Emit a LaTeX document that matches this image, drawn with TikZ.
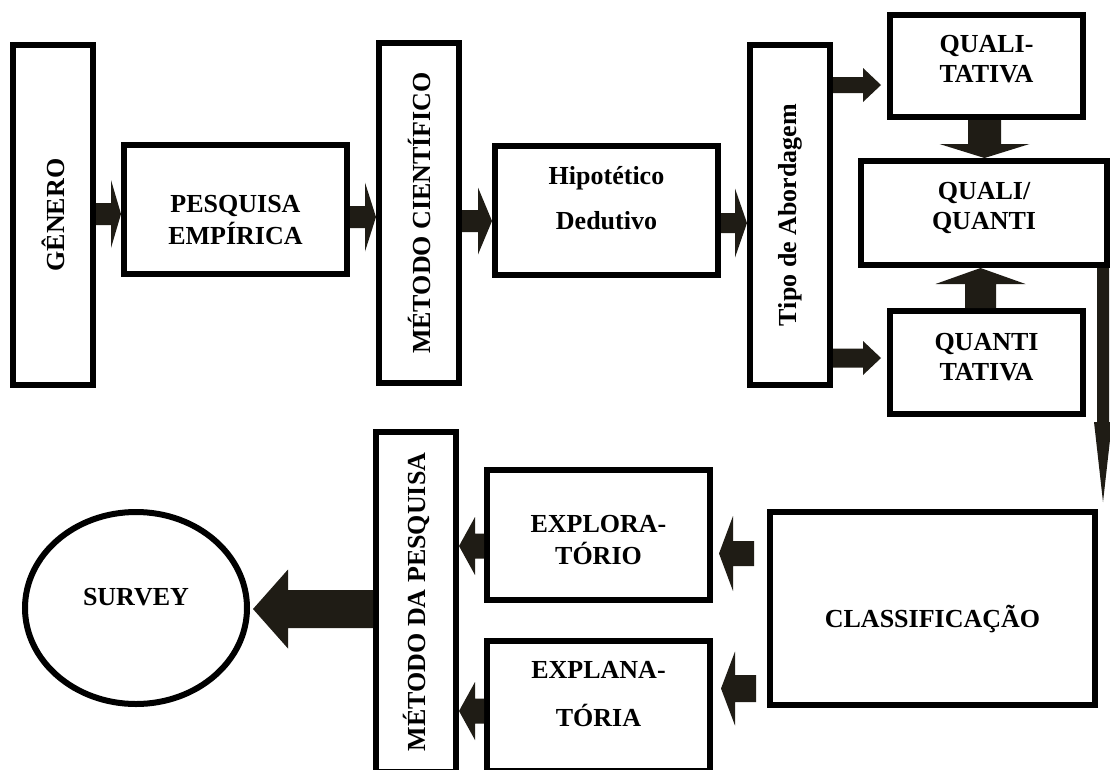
\documentclass[tikz,border=0pt]{standalone}
\usepackage{fontspec}
\setmainfont{Liberation Serif}
\usepackage{graphicx}
\usetikzlibrary{calc,shapes.geometric}
\definecolor{arrowfill}{RGB}{31,28,21}
\tikzset{
  box/.style={draw=black, line width=6pt, rectangle, inner sep=0pt,
    font=\bfseries\fontsize{26}{30}\selectfont},
}
\newcommand{\txt}[2]{\raisebox{#1}[\height][\depth]{\begin{tabular}{@{}c@{}}#2\end{tabular}}}
\newcommand{\vtxt}[1]{\rotatebox{90}{#1}}
% #1 start, #2 tip, #3 shaft half width, #4 head half width, #5 head length
\newcommand{\blockarrow}[5]{%
  \coordinate (bah) at ($(#2)!#5!(#1)$);
  \fill[arrowfill] ($(#1)!#3!90:(#2)$) -- ($(bah)!#3!-90:(#1)$) -- ($(bah)!#4!-90:(#1)$)
    -- (#2) -- ($(bah)!#4!90:(#1)$) -- ($(bah)!#3!90:(#1)$) -- ($(#1)!#3!-90:(#2)$) -- cycle;
}
\begin{document}
\begin{tikzpicture}[x=1pt,y=-1pt]
\useasboundingbox (0,0) rectangle (1110,769);
\fill[white] (0,0) rectangle (1110,769);
\clip (0,0) rectangle (1110,769);

\node[box, minimum width=80pt, minimum height=340pt] (g) at (53,215) {\vtxt{GÊNERO}};
\node[box, minimum width=223pt, minimum height=129pt] (pe) at (235.5,209.5) {\txt{-13pt}{PESQUISA\\EMPÍRICA}};
\node[box, minimum width=80pt, minimum height=340pt] (mc) at (419,213) {\vtxt{MÉTODO CIENTÍFICO}};
\node[box, minimum width=223pt, minimum height=129pt] (hd) at (606.5,210.5) {\txt{10pt}{Hipotético\\[15pt]Dedutivo}};
\node[box, minimum width=80pt, minimum height=340pt] (ta) at (790,215) {\vtxt{Tipo de Abordagem}};
\node[box, minimum width=193pt, minimum height=102pt] (ql) at (986.5,66) {\txt{5pt}{QUALI-\\TATIVA}};
\node[box, minimum width=246pt, minimum height=104pt] (qq) at (984,213) {\txt{4.5pt}{QUALI/\\QUANTI}};
\node[box, minimum width=193pt, minimum height=103pt] (qn) at (986.5,362.5) {\txt{3.5pt}{QUANTI\\TATIVA}};
\node[box, minimum width=325pt, minimum height=193pt] (cl) at (932.5,608.5) {\txt{-12.5pt}{CLASSIFICAÇÃO}};
\node[box, minimum width=223pt, minimum height=130pt] (ex) at (598.5,535) {\txt{-7.5pt}{EXPLORA-\\TÓRIO}};
\node[box, minimum width=223pt, minimum height=130pt] (en) at (598.5,706) {\txt{9.5pt}{EXPLANA-\\[17pt]TÓRIA}};
\node[box, minimum width=80pt, minimum height=340pt] (mp) at (416,602) {\vtxt{MÉTODO DA PESQUISA}};
\node[box, ellipse, minimum width=222pt, minimum height=192pt] (sv) at (136,608) {\txt{9pt}{SURVEY}};

\coordinate (a1s) at (g.east |- 0,214);
\coordinate (a1e) at (pe.west |- 0,214);
\coordinate (a2s) at (pe.east |- 0,217);
\coordinate (a2e) at (mc.west |- 0,217);
\coordinate (a3s) at (mc.east |- 0,221);
\coordinate (a3e) at (hd.west |- 0,221);
\coordinate (a4s) at (hd.east |- 0,223);
\coordinate (a4e) at (ta.west |- 0,223);
\coordinate (a5s) at (ta.east |- 0,85);
\coordinate (a5e) at ($(ql.west |- 0,85)+(-6,0)$);
\coordinate (a6s) at (ta.east |- 0,358);
\coordinate (a6e) at ($(qn.west |- 0,358)+(-6,0)$);
\coordinate (a7s) at (984.5,0 |- ql.south);
\coordinate (a7e) at (984.5,0 |- qq.north);
\coordinate (a8s) at (980.5,0 |- qn.north);
\coordinate (a8e) at (980.5,0 |- qq.south);
\coordinate (a9s) at (1103,0 |- qq.south);
\coordinate (a9e) at ($(1103,0 |- cl.north)+(0,-7)$);
\coordinate (a10s) at ($(cl.west |- 0,553.5)+(-13,0)$);
\coordinate (a10e) at ($(ex.east |- 0,553.5)+(6,0)$);
\coordinate (a11s) at ($(cl.west |- 0,688.5)+(-11,0)$);
\coordinate (a11e) at ($(ex.east |- 0,688.5)+(8,0)$);
\coordinate (a12s) at (ex.west |- 0,546);
\coordinate (a12e) at (mp.east |- 0,546);
\coordinate (a13s) at (en.west |- 0,711);
\coordinate (a13e) at (mp.east |- 0,711);
\coordinate (a14s) at (mp.west |- 0,609);
\coordinate (a14e) at ($(sv.east |- 0,609)+(3,0)$);

\blockarrow{a1s}{a1e}{11pt}{34pt}{10pt}
\blockarrow{a2s}{a2e}{11pt}{34.5pt}{11pt}
\blockarrow{a3s}{a3e}{11pt}{33.5pt}{14pt}
\blockarrow{a4s}{a4e}{10pt}{34.5pt}{12pt}
\blockarrow{a5s}{a5e}{8pt}{17pt}{18pt}
\blockarrow{a6s}{a6e}{9.5pt}{17pt}{18pt}
\blockarrow{a7s}{a7e}{16.5pt}{45pt}{14pt}
\blockarrow{a8s}{a8e}{15.5pt}{45pt}{16pt}
\blockarrow{a9s}{a9e}{6pt}{9pt}{80pt}
\blockarrow{a10s}{a10e}{12.5pt}{37.5pt}{14pt}
\blockarrow{a11s}{a11e}{13.5pt}{37pt}{14pt}
\blockarrow{a12s}{a12e}{12.5pt}{29pt}{16pt}
\blockarrow{a13s}{a13e}{12.5pt}{29pt}{16pt}
\blockarrow{a14s}{a14e}{19pt}{39.5pt}{35pt}
\end{tikzpicture}
\end{document}
